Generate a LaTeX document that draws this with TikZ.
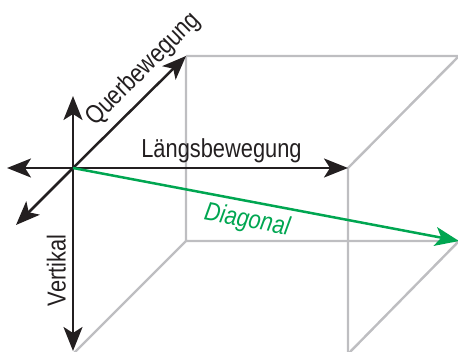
\documentclass[tikz,border=0pt]{standalone}
\usepackage{fontspec}
\setmainfont[FakeStretch=0.84]{Liberation Sans}
\usetikzlibrary{arrows.meta}
\definecolor{boxgray}{RGB}{190,190,193}
\definecolor{diaggreen}{RGB}{0,166,81}
\definecolor{axisblack}{RGB}{35,31,32}

\begin{document}
\begin{tikzpicture}[x=1pt, y=-1pt,
        font=\fontsize{26}{30}\selectfont,
        edge/.style={boxgray, line width=2.4pt},
        axis/.style={axisblack, line width=2.5pt, -{Stealth[length=24pt, width=19pt, inset=6pt]}},
        diag/.style={diaggreen, line width=2.5pt, -{Stealth[length=24pt, width=19pt, inset=6pt]}},
        lbl/.style={inner sep=1pt}]
    \useasboundingbox (0,0) rectangle (458,352);

    % corners of the box
    \coordinate (O) at (73,168);
    \coordinate (FR) at (348,168);
    \coordinate (FBL) at (73,354);
    \coordinate (FBR) at (348,354);
    \coordinate (BL) at (186,56);
    \coordinate (BR) at (459,56);
    \coordinate (BBL) at (186,241);
    \coordinate (BBR) at (459,241);

    % ends of the axes
    \coordinate (U) at (73,96);
    \coordinate (L) at (7,168);
    \coordinate (DL) at (16,225);
    \coordinate (D) at (73,351);

    \draw[edge] (BL) -- (BR) -- (FR) -- (FBR);
    \draw[edge] (BL) -- (BBL) -- (BBR) -- (FBR);
    \draw[edge] (BBL) -- (FBL);

    \draw[axis] (O) -- (U);
    \draw[axis] (O) -- (L);
    \draw[axis] (O) -- (DL);
    \draw[axis] (O) -- (D);
    \draw[axis] (O) -- (FR) node[lbl, pos=0.54, above=3pt] {Längsbewegung};
    \draw[axis] (O) -- (BL) node[lbl, pos=0.75, sloped, above=6pt] {Querbewegung};
    \path (D) -- (O) node[lbl, axisblack, pos=0.44, sloped, above=6pt] {Vertikal};
    \draw[diag] (O) -- (BBR) node[lbl, pos=0.46, sloped, below=5pt] {\itshape Diagonal};
\end{tikzpicture}
\end{document}
